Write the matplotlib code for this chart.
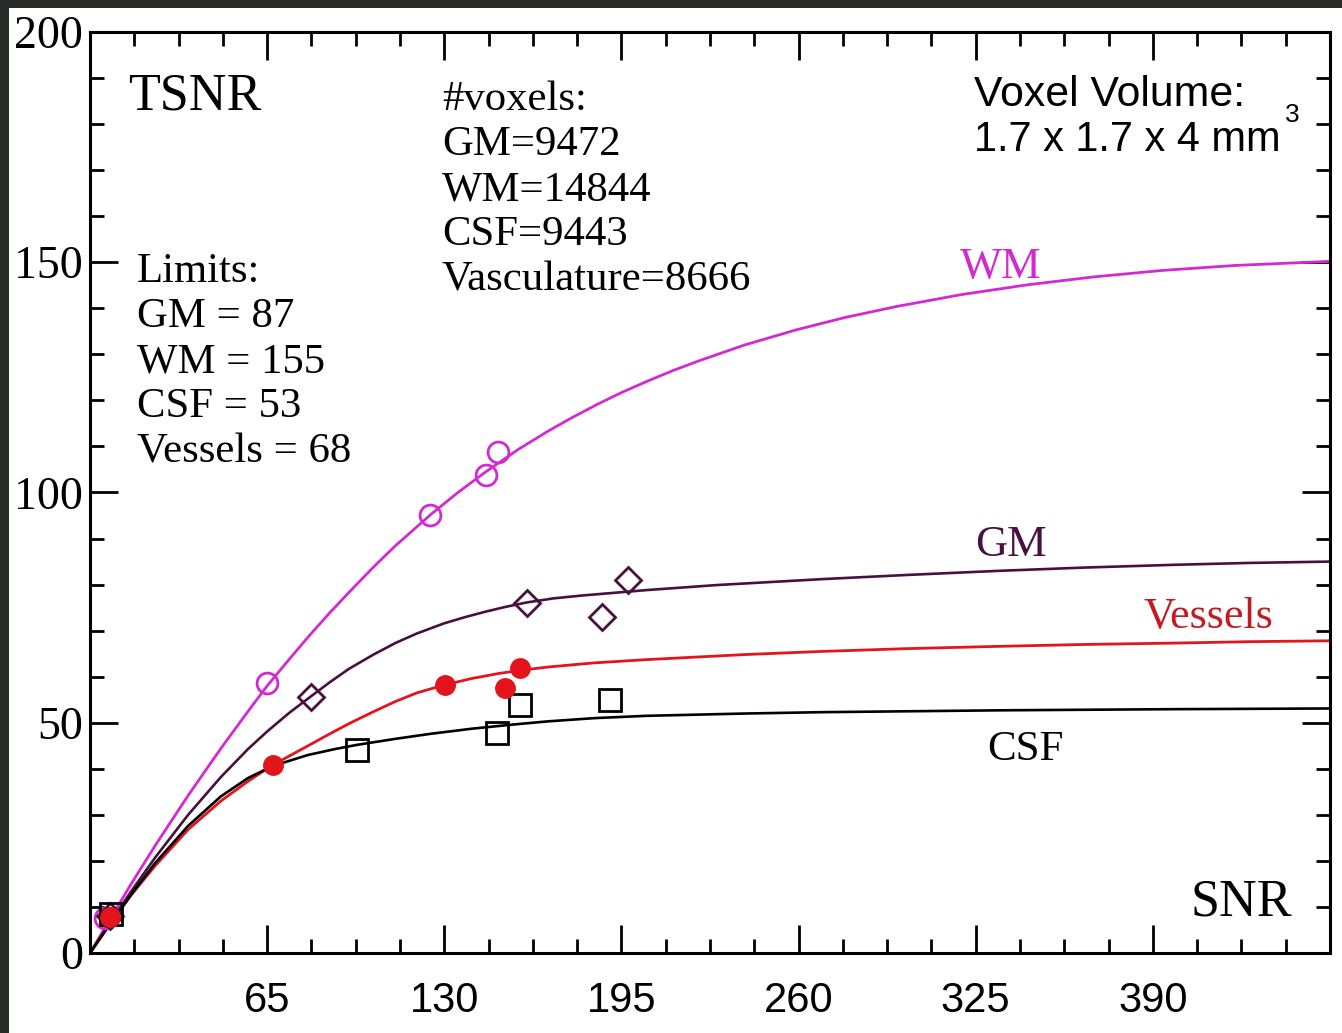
import numpy as np
import matplotlib
matplotlib.use("Agg")
import matplotlib.pyplot as plt
from matplotlib.patches import Rectangle
from matplotlib.ticker import MultipleLocator, FixedLocator

# fitted curves (SNR -> TSNR)
wm_x = [0, 7, 15, 24, 36, 48, 58, 65, 72, 80, 88, 95, 104, 112, 125, 135, 145, 157, 168, 177, 186,
        195, 205, 214, 223, 240, 259, 277, 296, 320, 344, 368, 393, 420, 455]
wm_y = [0, 7, 14.9, 23.4, 34.2, 44.4, 52.5, 58, 63, 68.6, 73.9, 78.3, 83.8, 88.4, 95.2, 100, 104.4, 109.3,
        113.3, 116.3, 119.1, 121.7, 124.3, 126.5, 128.5, 132, 135.3, 138, 140.4, 143, 145.1, 146.8, 148.2,
        149.3, 150.2]
gm_x = [0, 7, 15, 24, 36, 48, 58, 65, 73, 81, 88, 95, 104, 112, 120, 130, 138, 145, 152, 160, 170, 180,
        204, 230, 269, 300, 334, 365, 398, 425, 455]
gm_y = [0, 6.3, 13.3, 20.8, 30, 38.2, 44.3, 48.1, 52.1, 55.7, 58.8, 61.7, 64.8, 67.3, 69.4, 71.6, 73.0,
        74.1, 75.1, 76.1, 77.0, 77.6, 78.8, 79.9, 81.2, 82.1, 83.0, 83.7, 84.3, 84.7, 85.0]
ves_x = [0, 7, 15, 24, 36, 48, 58, 67, 80, 88, 95, 104, 112, 120, 130, 140, 150, 158, 168, 185, 204, 240,
         269, 300, 334, 365, 398, 425, 455]
ves_y = [0, 6.0, 12.5, 19.0, 26.8, 33.0, 37.3, 40.8, 45.0, 47.6, 49.8, 52.4, 54.6, 56.5, 58.2, 59.6, 60.7,
         61.4, 62.1, 63.0, 63.7, 64.8, 65.5, 66.1, 66.6, 67.0, 67.3, 67.6, 67.8]
csf_x = [0, 7, 15, 24, 36, 48, 58, 67, 80, 90, 98, 112, 125, 140, 155, 168, 185, 204, 240, 269, 334, 398, 455]
csf_y = [0, 6.0, 12.6, 19.6, 27.6, 34.0, 38.0, 40.6, 43.0, 44.3, 45.2, 46.5, 47.6, 48.7, 49.6, 50.3,
         51.0, 51.5, 52.0, 52.3, 52.7, 52.95, 53.1]

# measured points
wm_px = [5.5, 64.8, 124.8, 145.3, 149.8]
wm_py = [7.5, 58.6, 95.1, 103.8, 108.9]
gm_px = [7.5, 81.2, 160.5, 187.8, 197.5]
gm_py = [8.0, 55.7, 76.1, 72.9, 81.0]
ves_px = [7.3, 67.1, 130.3, 152.3, 157.8]
ves_py = [7.9, 40.8, 58.2, 57.5, 61.8]
csf_px = [7.6, 97.9, 149.2, 157.8, 190.8]
csf_py = [8.5, 44.1, 47.7, 53.9, 54.9]

x_ticks = [0, 65, 130, 195, 260, 325, 390, 455]
x_labels = ['', '65', '130', '195', '260', '325', '390', '']
y_ticks = [0, 50, 100, 150, 200]

limits_lines = ['Limits:', 'GM = 87', 'WM = 155', 'CSF = 53', 'Vessels = 68']
voxel_lines = ['#voxels:', 'GM=9472', 'WM=14844', 'CSF=9443', 'Vasculature=8666']

c_wm = '#d22ad2'
c_gm = '#48103f'
c_ves = '#e3141b'
c_csf = 'black'

W, H = 1342, 1033
fig = plt.figure(figsize=(W / 100, H / 100), dpi=100, facecolor='#272b27')
fig.patches.append(Rectangle((9 / W, 0), 1 - 9 / W, 1 - 8 / H, transform=fig.transFigure,
                             facecolor='white', edgecolor='none', zorder=-10))
ax = fig.add_axes([90 / W, 1 - 953 / H, (1330 - 90) / W, (953 - 32) / H])
ax.set_facecolor('white')

def fpos(x, y):
    return x / W, 1 - y / H

serif = 'Liberation Serif'
sans = 'Liberation Sans'

ax.plot(wm_x, wm_y, color=c_wm, lw=2.0, zorder=2, solid_joinstyle='round')
ax.plot(gm_x, gm_y, color=c_gm, lw=1.9, zorder=2, solid_joinstyle='round')
ax.plot(ves_x, ves_y, color=c_ves, lw=2.0, zorder=2, solid_joinstyle='round')
ax.plot(csf_x, csf_y, color=c_csf, lw=1.9, zorder=2, solid_joinstyle='round')

ax.plot(wm_px, wm_py, 'o', ms=15, mfc='none', mec=c_wm, mew=2.0, zorder=3)
ax.plot(gm_px, gm_py, 'D', ms=13.5, mfc='none', mec=c_gm, mew=2.0, zorder=3)
ax.plot(csf_px, csf_py, 's', ms=16, mfc='none', mec=c_csf, mew=2.0, zorder=3)
ax.plot(ves_px, ves_py, 'o', ms=14, mfc=c_ves, mec=c_ves, mew=1, zorder=4)

ax.set_xlim(0, 455)
ax.set_ylim(0, 200)
ax.xaxis.set_major_locator(FixedLocator(x_ticks))
ax.set_xticklabels(x_labels)
ax.xaxis.set_minor_locator(MultipleLocator(16.25))
ax.yaxis.set_major_locator(FixedLocator(y_ticks))
ax.yaxis.set_minor_locator(MultipleLocator(10))
ax.tick_params(which='both', direction='in', top=True, right=True, width=2, color='black')
ax.tick_params(which='major', length=20)
ax.tick_params(which='minor', length=10)
ax.tick_params(axis='x', which='major', pad=20)
ax.tick_params(axis='y', which='major', pad=5)
for s in ax.spines.values():
    s.set_linewidth(2.2)
for lab in ax.get_xticklabels():
    lab.set_fontfamily(sans)
    lab.set_fontsize(30)
for lab in ax.get_yticklabels():
    lab.set_fontfamily(serif)
    lab.set_fontsize(33)

fig.text(*fpos(128, 97), 'TSNR', family=serif, fontsize=37.5, va='center', ha='left')
fig.text(*fpos(1191, 902), 'SNR', family=serif, fontsize=37.5, va='center', ha='left')

for i, t in enumerate(limits_lines):
    fig.text(*fpos(137, 272 + i * 45), t, family=serif, fontsize=30.8, va='center', ha='left')
for i, t in enumerate(voxel_lines):
    fig.text(*fpos(442, 100 + i * 45), t, family=serif, fontsize=30.8, va='center', ha='left')

fig.text(*fpos(974, 95), 'Voxel Volume:', family=sans, fontsize=30.8, va='center', ha='left')
fig.text(*fpos(974, 140), '1.7 x 1.7 x 4 mm', family=sans, fontsize=29.9, va='center', ha='left')
fig.text(*fpos(1285, 115), '3', family=sans, fontsize=19, va='center', ha='left')

fig.text(*fpos(960, 267), 'WM', family=serif, fontsize=32, color=c_wm, va='center', ha='left')
fig.text(*fpos(975, 545), 'GM', family=serif, fontsize=32, color=c_gm, va='center', ha='left')
fig.text(*fpos(1143, 617), 'Vessels', family=serif, fontsize=31.8, color='#c41a22', va='center', ha='left')
fig.text(*fpos(987, 750), 'CSF', family=serif, fontsize=31, color='black', va='center', ha='left')

fig.savefig('out.png', dpi=100, facecolor=fig.get_facecolor())
